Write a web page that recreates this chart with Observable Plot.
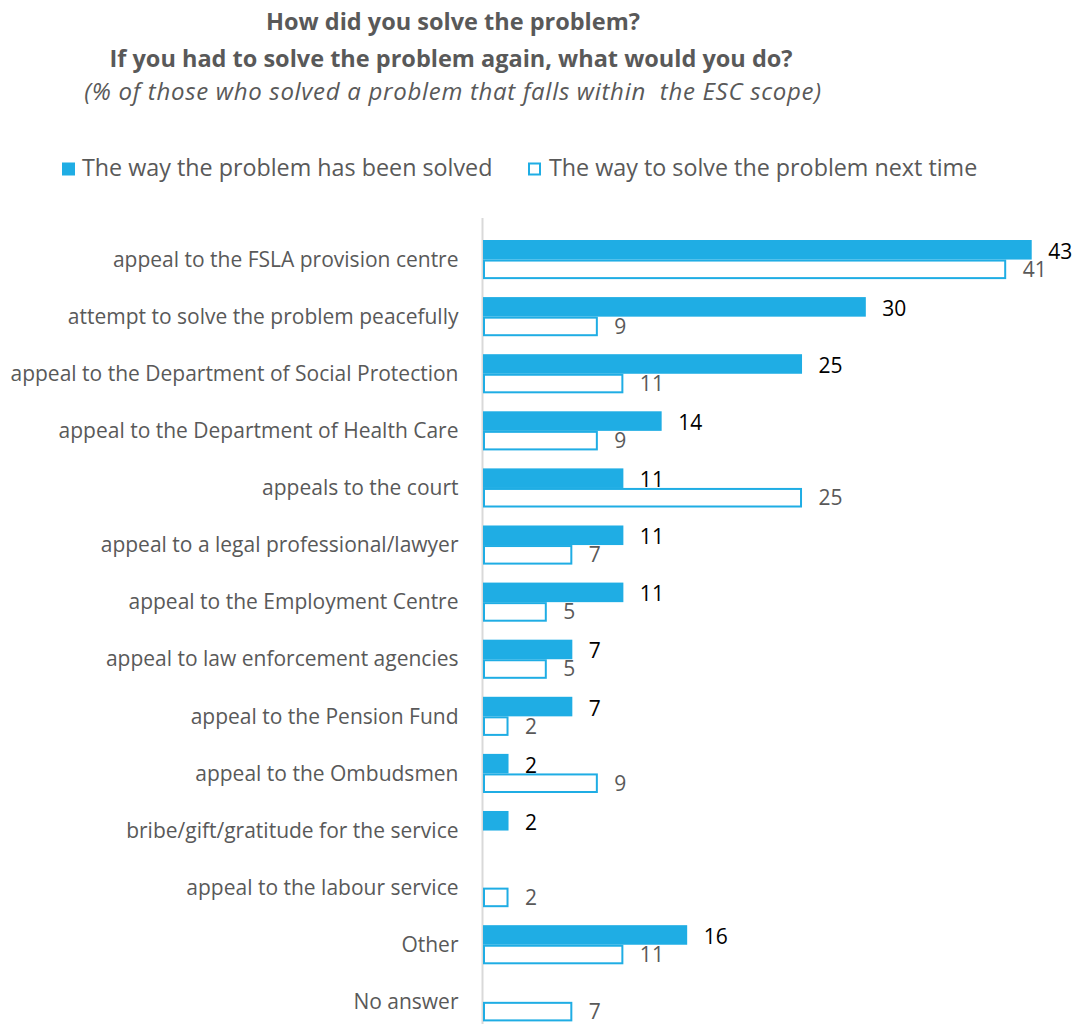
<!DOCTYPE html>
<html><head><meta charset="utf-8">
<script src="https://cdn.jsdelivr.net/npm/d3@7"></script>
<script src="https://cdn.jsdelivr.net/npm/@observablehq/plot@0.6"></script>
<style>
body{margin:0;background:#fff;font-family:"Open Sans",sans-serif;color:#595959;}
#wrap{position:relative;width:1079px;height:1024px;overflow:hidden;background:#fff;}
.t{position:absolute;white-space:pre;transform:translate(-50%,-50%);line-height:1;}
.lg{position:absolute;white-space:nowrap;font-size:23.3px;line-height:1;transform:translateY(-50%);}
.sw{position:absolute;width:13px;height:13px;box-sizing:border-box;transform:translateY(-50%);}
#chart{position:absolute;left:0;top:200px;}
</style></head><body>
<div id="wrap">
 <div class="t" id="t1" style="left:453px;top:22px;font-weight:bold;font-size:23.5px"></div>
 <div class="t" id="t2" style="left:451px;top:59px;font-weight:bold;font-size:23.5px"></div>
 <div class="t" id="t3" style="left:453px;top:91px;font-style:italic;font-size:24px;letter-spacing:0.7px"></div>
 <div id="legend"></div>
 <div id="chart"></div>
</div>
<script>
const titleLines = [
  "How did you solve the problem?",
  "If you had to solve the problem again, what would you do?",
  "(% of those who solved a problem that falls within  the ESC scope)"
];
const seriesNames = ["The way the problem has been solved", "The way to solve the problem next time"];
const categories = [
  "appeal to the FSLA provision centre",
  "attempt to solve the problem peacefully",
  "appeal to the Department of Social Protection",
  "appeal to the Department of Health Care",
  "appeals to the court",
  "appeal to a legal professional/lawyer",
  "appeal to the Employment Centre",
  "appeal to law enforcement agencies",
  "appeal to the Pension Fund",
  "appeal to the Ombudsmen",
  "bribe/gift/gratitude for the service",
  "appeal to the labour service",
  "Other",
  "No answer"
];
const solved   = [43, 30, 25, 14, 11, 11, 11, 7, 7, 2, 2, null, 16, null];
const nextTime = [41, 9, 11, 9, 25, 7, 5, 5, 2, 9, null, 2, 11, 7];
const xDomain = [0, 46];

const BLUE = "#1FADE4", GRAY = "#595959";

document.getElementById("t1").textContent = titleLines[0];
document.getElementById("t2").textContent = titleLines[1];
document.getElementById("t3").textContent = titleLines[2];

// legend
const lg = document.getElementById("legend");
const legendPos = [{sq: 62, tx: 82}, {sq: 528, tx: 549}];
seriesNames.forEach((name, i) => {
  const sw = document.createElement("div");
  sw.className = "sw";
  sw.style.left = legendPos[i].sq + "px";
  sw.style.top = "169px";
  if (i === 0) sw.style.background = BLUE; else { sw.style.border = "2px solid " + BLUE; sw.style.background = "#fff"; }
  lg.appendChild(sw);
  const tx = document.createElement("div");
  tx.className = "lg";
  tx.style.left = legendPos[i].tx + "px";
  tx.style.top = "168px";
  tx.textContent = name;
  lg.appendChild(tx);
});

const rowsS = categories.map((c, i) => ({category: c, value: solved[i]})).filter(d => d.value != null);
const rowsN = categories.map((c, i) => ({category: c, value: nextTime[i]})).filter(d => d.value != null);

const HALF = 19.55;
const chart = Plot.plot({
  width: 1079, height: 824,
  marginLeft: 483, marginRight: 9, marginTop: 18, marginBottom: 0,
  style: {fontFamily: "Open Sans", fontSize: "21px", color: GRAY, background: "white"},
  x: {domain: xDomain, axis: null},
  y: {domain: categories, round: false, paddingInner: 0.315, paddingOuter: 0.2155, align: 0.894, label: null, tickSize: 0, tickPadding: 25},
  marks: [
    Plot.ruleX([0], {stroke: "#D9D9D9", strokeWidth: 2, dx: -1}),
    Plot.barX(rowsS, {x: "value", y: "category", fill: BLUE, insetBottom: HALF}),
    Plot.barX(rowsN, {x: "value", y: "category", fill: "white", stroke: BLUE, strokeWidth: 2, insetTop: HALF + 1, insetBottom: 1, insetLeft: 1, insetRight: 1}),
    Plot.text(rowsS, {x: "value", y: "category", text: d => String(d.value), dx: 16, dy: -8, textAnchor: "start", fill: "#000", fontSize: 21}),
    Plot.text(rowsN, {x: "value", y: "category", text: d => String(d.value), dx: 16, dy: 10, textAnchor: "start", fill: GRAY, fontSize: 21})
  ]
});
document.getElementById("chart").appendChild(chart);
</script>
</body></html>
